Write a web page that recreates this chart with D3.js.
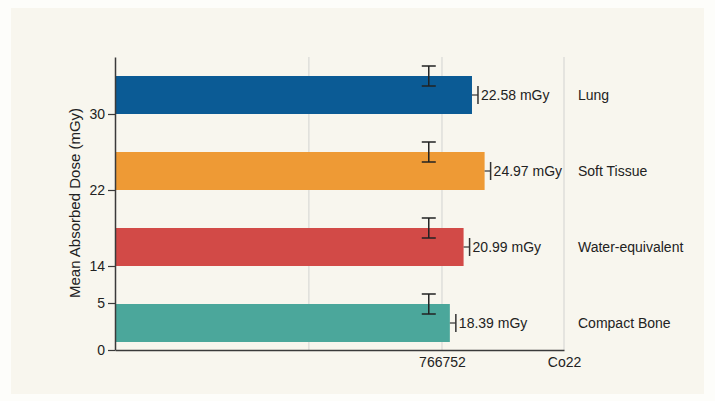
<!DOCTYPE html>
<html>
<head>
<meta charset="utf-8">
<script src="https://cdn.jsdelivr.net/npm/d3@7"></script>
<style>
  html, body { margin: 0; padding: 0; background: #fdfdfa; }
  svg { display: block; font-family: "Liberation Sans", Arial, Helvetica, sans-serif; }
</style>
</head>
<body>
<svg id="chart" width="715" height="401"></svg>
<script>
// Materials, top to bottom
const materials = ["Lung", "Soft Tissue", "Water-equivalent", "Compact Bone"];
// Mean absorbed dose per material (mGy)
const doses = [22.58, 24.97, 20.99, 18.39];
// Position of the spread marker along the dose axis
const spreadAt = [14.4, 14.4, 14.4, 14.4];
const barColors = ["#0b5b95", "#ee9a35", "#d24a47", "#4ba79b"];

// Left axis ticks
const yTickValues = [0, 5, 14, 22, 30];
// Bottom axis ticks and their labels
const xTickValues = [-8.3, 16.9, 40];
const xTickLabels = ["", "766752", "Co22"];

const svg = d3.select("#chart");

// card
svg.append("rect")
  .attr("x", 11).attr("y", 8).attr("width", 693).attr("height", 386)
  .attr("fill", "#f8f6ee");

const plotLeft = 115, plotRight = 564, plotTop = 57, plotBottom = 350;

const x = d3.scaleLinear().domain([-45, 40]).range([plotLeft, plotRight]);
const yAxisScale = d3.scaleLinear()
  .domain([0, 5, 14, 22, 30, 37.5])
  .range([plotBottom, 303, 266, 190, 114, plotTop]);
const band = d3.scaleBand()
  .domain(materials)
  .range([plotTop, 361])
  .paddingInner(0.5)
  .paddingOuter(0.25);

// vertical gridlines
svg.append("g")
  .selectAll("line")
  .data(xTickValues)
  .join("line")
  .attr("x1", d => x(d)).attr("x2", d => x(d))
  .attr("y1", plotTop).attr("y2", plotBottom)
  .attr("stroke", "#d9d9d6")
  .attr("stroke-width", 1.2);

// bars
svg.append("g")
  .selectAll("rect")
  .data(materials)
  .join("rect")
  .attr("x", plotLeft)
  .attr("y", d => band(d))
  .attr("width", (d, i) => x(doses[i]) - plotLeft)
  .attr("height", band.bandwidth())
  .attr("fill", (d, i) => barColors[i]);

// spread markers across the top edge of each bar
const err = svg.append("g").attr("stroke", "#222").attr("stroke-width", 1.5).attr("fill", "none");
materials.forEach((m, i) => {
  const cx = x(spreadAt[i]);
  const cy = band(m);
  err.append("line").attr("x1", cx).attr("x2", cx).attr("y1", cy - 10).attr("y2", cy + 10);
  err.append("line").attr("x1", cx - 7).attr("x2", cx + 7).attr("y1", cy - 10).attr("y2", cy - 10);
  err.append("line").attr("x1", cx - 7).attr("x2", cx + 7).attr("y1", cy + 10).attr("y2", cy + 10);
});

// end markers and value labels
const ends = svg.append("g");
materials.forEach((m, i) => {
  const ex = x(doses[i]);
  const cy = band(m) + band.bandwidth() / 2;
  ends.append("line").attr("x1", ex).attr("x2", ex + 6).attr("y1", cy).attr("y2", cy)
    .attr("stroke", "#333").attr("stroke-width", 1.2);
  ends.append("line").attr("x1", ex + 6).attr("x2", ex + 6).attr("y1", cy - 9).attr("y2", cy + 9)
    .attr("stroke", "#333").attr("stroke-width", 1.5);
  ends.append("text")
    .attr("x", ex + 9).attr("y", cy)
    .attr("dy", "0.35em")
    .attr("font-size", 14)
    .attr("fill", "#222")
    .text(doses[i].toFixed(2) + " mGy");
  ends.append("text")
    .attr("x", 578).attr("y", cy)
    .attr("dy", "0.35em")
    .attr("font-size", 14)
    .attr("fill", "#222")
    .text(m);
});

// left axis
const yAxis = svg.append("g")
  .attr("transform", `translate(${plotLeft},0)`)
  .call(d3.axisLeft(yAxisScale).tickValues(yTickValues).tickSize(7).tickPadding(3).tickSizeOuter(0));
yAxis.select(".domain").attr("stroke", "#3a3a3a").attr("stroke-width", 1.5);
yAxis.selectAll(".tick line").attr("stroke", "#3a3a3a").attr("stroke-width", 1.2);
yAxis.selectAll(".tick text").attr("font-size", 14).attr("fill", "#222")
  .attr("font-family", "'Liberation Sans', Arial, sans-serif");

// bottom axis
const xAxis = svg.append("g")
  .attr("transform", `translate(0,${plotBottom})`)
  .call(d3.axisBottom(x).tickValues(xTickValues)
    .tickFormat((d, i) => xTickLabels[i]).tickSize(0).tickPadding(7).tickSizeOuter(0));
xAxis.select(".domain").attr("stroke", "#3a3a3a").attr("stroke-width", 1.5);
xAxis.selectAll(".tick text").attr("font-size", 14).attr("fill", "#222")
  .attr("font-family", "'Liberation Sans', Arial, sans-serif");

// axis title
svg.append("text")
  .attr("transform", "translate(80,203) rotate(-90)")
  .attr("text-anchor", "middle")
  .attr("font-size", 15)
  .attr("fill", "#222")
  .text("Mean Absorbed Dose (mGy)");
</script>
</body>
</html>
